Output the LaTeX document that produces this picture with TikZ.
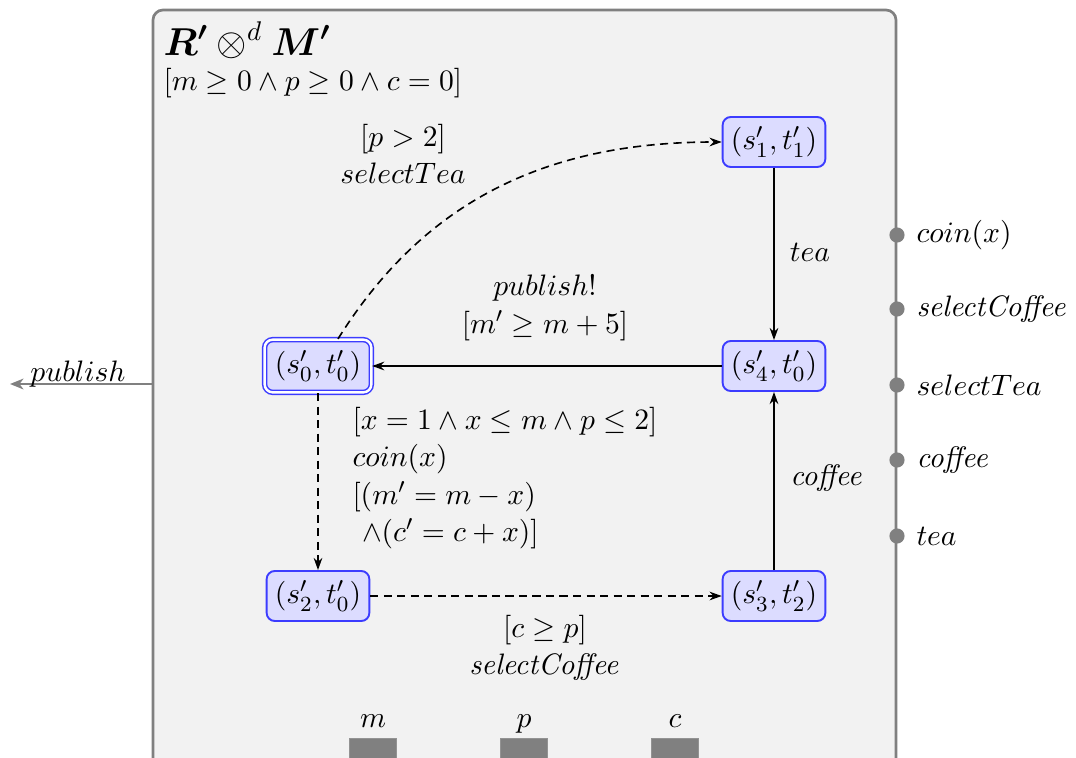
\documentclass[tikz,border=0pt]{standalone}
\usepackage{amsmath,amssymb}
\usetikzlibrary{arrows.meta}
\definecolor{statefill}{RGB}{220,220,255}
\definecolor{stateblue}{RGB}{60,60,255}
\definecolor{framefill}{RGB}{242,242,242}
\definecolor{framegray}{RGB}{128,128,128}
\tikzset{
  every node/.style={font=\fontsize{11}{13.8}\selectfont},
  statebox/.style={draw=stateblue, fill=statefill, rounded corners=3pt, line width=0.7pt,
    minimum height=18.5pt, minimum width=38pt, inner sep=1.8pt},
  initstate/.style={statebox, double=white, double distance=0.9pt, line width=0.55pt, minimum width=39.5pt, minimum height=19.5pt},
  trans/.style={-{Stealth[length=4.5pt,width=3.2pt]}, line width=0.6pt},
  dtrans/.style={trans, dash pattern=on 3pt off 2pt},
  portdot/.style={circle, fill=framegray, inner sep=0pt, minimum size=5.6pt},
  lbl/.style={align=center, inner sep=0pt},
  varbox/.style={fill=framegray, draw=framegray!85!white, line width=0.4pt}
}
\begin{document}
\begin{tikzpicture}[x=0.37pt,y=-0.37pt]
\useasboundingbox (0,0) rectangle (1076,758);
% frame
\draw[draw=framegray, fill=framefill, line width=1pt, rounded corners=3.7pt] (153,10) rectangle (896,820);
\node[anchor=base west, inner sep=0pt] (title) at (163,55) {\fontsize{14.4}{16}\selectfont$\boldsymbol{R'}\otimes^{d}\boldsymbol{M'}$};
\node[anchor=west, inner sep=0pt] (guard) at (163,83) {$[m\geq 0\wedge p\geq 0\wedge c=0]$};

% states
\node[initstate] (s0) at (318,366) {$(s'_0,t'_0)$};
\node[statebox] (s1) at (774,142) {$(s'_1,t'_1)$};
\node[statebox] (s4) at (774,366) {$(s'_4,t'_0)$};
\node[statebox] (s2) at (318,596) {$(s'_2,t'_0)$};
\node[statebox] (s3) at (774,596) {$(s'_3,t'_2)$};

% transitions
\draw[dtrans] ([xshift=7.4pt]s0.north) to[out=58,in=180] (s1.west);
\draw[trans] (s1.south) -- (s4.north);
\draw[trans] (s4.west) -- (s0.east);
\draw[dtrans] (s0.south) -- (s2.north);
\draw[dtrans] (s2.east) -- (s3.west);
\draw[trans] (s3.north) -- (s4.south);

% labels
\node[lbl] (l01) at (403,154) {$[p>2]$\\$selectTea$};
\node[lbl] (l14) at (810,252) {$tea$};
\node[lbl] (l40) at (545,308) {$publish!$\\$[m'\geq m+5]$};
\node[lbl, align=left, anchor=west] (l02) at (352,478) {$[x=1\wedge x\leq m\wedge p\leq 2]$\\$coin(x)$\\$[(m'=m-x)$\\\hspace*{3.5pt}$\wedge(c'=c+x)]$};
\node[lbl] (l23) at (545,648) {$[c\geq p]$\\$\mathit{selectCoffee}$};
\node[lbl] (l34) at (827,478) {$\mathit{coffee}$};

% ports on the right
\foreach \nm/\yy/\tx in {pa/235/{coin(x)}, pb/309/{\mathit{selectCoffee}}, pc/385/{selectTea}, pd/460/{\mathit{coffee}}, pe/536/{tea}}{
  \node[portdot] (\nm) at (897,\yy) {};
  \node[anchor=west, inner sep=0pt] (\nm l) at (916,\yy) {$\tx$};
}

% output publish on the left
\coordinate (pubin) at (153,384);
\coordinate (pubout) at (10,384);
\draw[framegray, line width=0.8pt, -{Stealth[length=5pt,width=4pt,inset=1.5pt]}] (pubin) -- (pubout);
\node[anchor=base, inner sep=0pt] (publ) at (78,381) {$publish$};

% variables at the bottom
\foreach \nm/\xx/\tx in {vm/373/m, vp/524/p, vc/675/c}{
  \node[varbox, minimum width=17.4pt, minimum height=12pt, inner sep=0pt, anchor=north] (\nm) at (\xx,738) {};
  \node[anchor=base, inner sep=0pt] (\nm l) at (\xx,727) {$\tx$};
}
\end{tikzpicture}
\end{document}
